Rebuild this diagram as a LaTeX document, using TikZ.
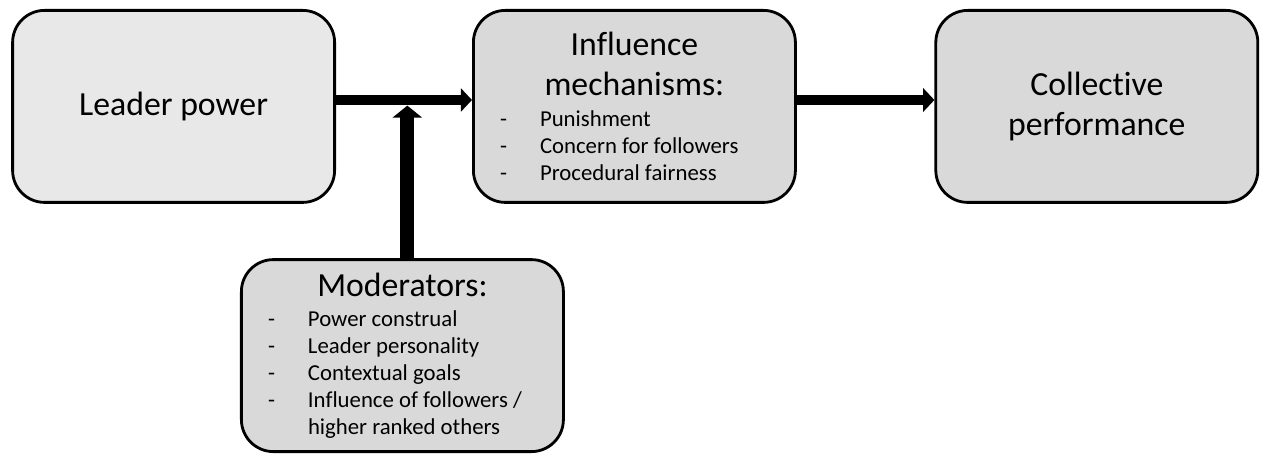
\documentclass[tikz,border=0pt]{standalone}
\usepackage{fontspec}
\setmainfont{Carlito}[Ligatures=NoCommon]
\usepackage{xcolor}
\usepackage{tikz}
\usetikzlibrary{arrows.meta, positioning}

\definecolor{boxgray}{HTML}{D9D9D9}
\definecolor{lightgray}{HTML}{E8E8E8}

% list item with a dash
\newcommand{\dashitem}[1]{\makebox[1cm][l]{-}#1}

\begin{document}
\begin{tikzpicture}[
    box/.style={rectangle, rounded corners=0.8cm, draw=black, line width=2pt, fill=boxgray, minimum width=8.05cm, minimum height=4.8cm, inner sep=0pt, align=center},
    title/.style={font=\fontsize{24}{28.4}\selectfont},
    arrow/.style={line width=7.8pt, -{Triangle[width=16.5pt, length=8pt]}},
    uparrow/.style={line width=10pt, -{Triangle[width=20.5pt, length=8.5pt]}}
]

\useasboundingbox (0,0) rectangle (31.675,-11.375);

% Main boxes
\node[box, title, fill=lightgray] (lead) at (4.34, -2.66) {Leader power};

\node[box] (infl) at (15.86, -2.66) {%
    \begin{minipage}{6.72cm}
    \centering\fontsize{24}{28.4}\selectfont Influence\\ mechanisms:\par
    \vspace{2.9pt}
    \raggedright\fontsize{16.2}{19.1}\selectfont
    \dashitem{Punishment}\\
    \dashitem{Concern for followers}\\
    \dashitem{Procedural fairness}\par
    \end{minipage}};

\node[box, title] (coll) at (27.42, -2.66) {Collective\\performance};

% Moderators
\node[box] (mod) at (10.06, -8.89) {%
    \begin{minipage}{6.72cm}
    \centering\fontsize{24}{28.4}\selectfont Moderators:\par
    \vspace{2.2pt}
    \raggedright\fontsize{16.2}{19.1}\selectfont
    \dashitem{Power construal}\\
    \dashitem{Leader personality}\\
    \dashitem{Contextual goals}\\
    \dashitem{Influence of followers /}\\
    \hspace*{1cm}higher ranked others\par
    \end{minipage}};

% Connections
\coordinate (join) at ([xshift=3.5pt]mod.north |- lead.east);
\draw[arrow] ([yshift=0.16cm]lead.east) -- ([yshift=0.16cm]infl.west);
\draw[arrow] ([yshift=0.16cm]infl.east) -- ([yshift=0.16cm]coll.west);
\draw[uparrow] ([xshift=3.5pt]mod.north) -- ([yshift=0.02cm]join);

\end{tikzpicture}
\end{document}
